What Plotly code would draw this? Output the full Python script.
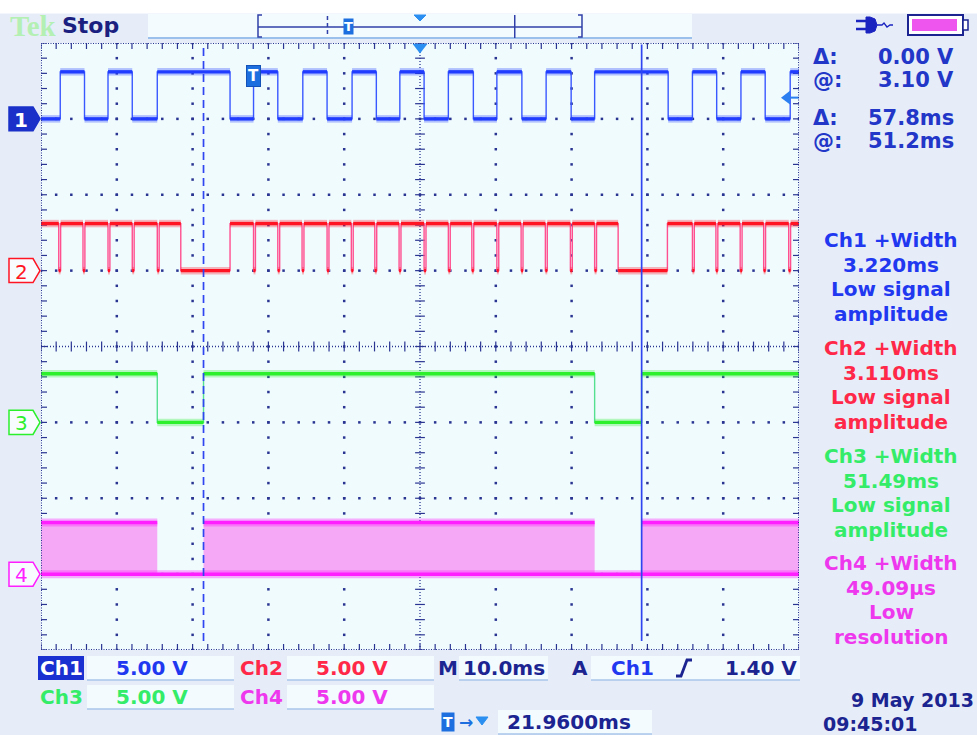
import plotly.graph_objects as go

# ---------------------------------------------------------------- screen
W, H = 977, 735
GX0, GX1, GY0, GY1 = 41, 799, 43, 650          # graticule box (pixels)

# Horizontal: 10.0 ms/div over 10 divisions, times relative to the trigger
T_START, T_END = -28.04, 71.96
DELAY_MS = 21.96
# Vertical: 8 divisions, every channel at 5 V/div
VOLTS_PER_DIV = 5.0
DIV_MIN, DIV_MAX = -4, 4

# ---------------------------------------------------------------- data
channel_names = ["Ch1", "Ch2", "Ch3", "Ch4"]
channel_offsets = [3, 1, -1, -3]                 # ground markers (div)
channel_scale_text = ["5.00 V", "5.00 V", "5.00 V", "5.00 V"]

ch1_high_v = 3.10
ch1_starts_high = False
ch1_edges_ms = [-25.5, -22.3, -19.2, -16.0, -12.7, -3.1, 0.0, 3.2, 6.5,
                9.7, 13.0, 16.2, 19.3, 22.5, 25.7, 29.0, 32.1, 35.4, 38.6,
                41.9, 45.0, 54.7, 57.9, 61.1, 64.3, 67.5, 70.8]

ch2_high_v = 3.10
ch2_glitch_ms = [-25.7, -22.5, -19.2, -16.0, -12.7, 0.0, 3.2, 6.4, 9.7,
                 12.9, 16.0, 19.2, 22.5, 25.7, 28.8, 32.1, 35.3, 38.5,
                 41.8, 45.0, 57.9, 61.0, 64.2, 67.3, 70.6]
ch2_glitch_width_ms = 0.25
ch2_low_ms = [(-9.6, -3.1), (48.1, 54.6)]

ch3_high_v = 3.20
ch3_starts_high = True
ch3_edges_ms = [-12.7, -6.6, 45.0, 51.2]

ch4_high_v = 3.40
ch4_gap_ms = [(-12.7, -6.6), (45.0, 51.2)]

cursor_ms = [-6.6, 51.2]
cursor_level_v = [3.10, 3.10]
trigger_level_v = 1.40

measurements = [
    ["Ch1 +Width", "3.220ms", "Low signal", "amplitude"],
    ["Ch2 +Width", "3.110ms", "Low signal", "amplitude"],
    ["Ch3 +Width", "51.49ms", "Low signal", "amplitude"],
    ["Ch4 +Width", "49.09µs", "Low", "resolution"],
]

# ---------------------------------------------------------------- style
FONT = "DejaVu Sans"
BG = "#e6edf8"
GRAT_BG = "#f0fbfe"
BOX_BG = "#f3fbff"
BOX_EDGE = "#a9c6ea"
GRID = "#2a3592"
NAVY = "#1b2490"
CURSOR = "#2f45f0"
TRACE = ["#1f3cff", "#ff1424", "#2cf02c", "#ff1eff"]
EDGE = ["#3a58ff", "#ff4f8f", "#55e090", "#ff55ff"]
TEXT = ["#1f38f0", "#ff2848", "#34ec68", "#ee38ee"]
CH4_FILL = "#f5a8f5"

PX_MS = (T_END - T_START) / (GX1 - GX0)          # ms per pixel
PX_DIV = (DIV_MAX - DIV_MIN) / (GY1 - GY0)       # div per pixel


def div(ch, volts):
    return channel_offsets[ch] + volts / VOLTS_PER_DIV


def ypix(d):
    return GY0 + (DIV_MAX - d) / PX_DIV


def px(x, y):
    return x / W, 1 - y / H


def step(edges, start_high, high_v, ch):
    xs = [T_START] + list(edges) + [T_END]
    state = start_high
    states = [state]
    for _ in edges:
        state = not state
        states.append(state)
    states.append(state)
    ys = [div(ch, high_v if s else 0.0) for s in states]
    return xs, ys, states


def flats(xs, ys, states=None, only_high=False):
    sx, sy = [], []
    for i in range(len(xs) - 1):
        if only_high and not states[i]:
            continue
        sx += [xs[i], xs[i + 1], None]
        sy += [ys[i], ys[i], None]
    return sx, sy


fig = go.Figure()


def line(x, y, color, width, shape="linear", opacity=1.0, **kw):
    fig.add_trace(go.Scatter(x=x, y=y, mode="lines", opacity=opacity,
                             line=dict(color=color, width=width, shape=shape),
                             hoverinfo="skip", showlegend=False, **kw))


def marks(x, y, symbol, size, color, lw=1.2):
    fig.add_trace(go.Scatter(
        x=x, y=y, mode="markers", hoverinfo="skip", showlegend=False,
        marker=dict(symbol=symbol, size=size, color=color,
                    line=dict(width=lw, color=color))))


# ---------------------------------------------------------------- graticule
dots_x, dots_y = [], []
for i in range(1, 10):
    if i == 5:
        continue
    t = T_START + i * 10
    for k in range(41):
        dots_x.append(t)
        dots_y.append(DIV_MIN + k * 0.2)
for j in range(1, 8):
    if j == 4:
        continue
    for k in range(51):
        dots_x.append(T_START + k * 2)
        dots_y.append(DIV_MIN + j)
fig.add_trace(go.Scatter(x=dots_x, y=dots_y, mode="markers",
                         hoverinfo="skip", showlegend=False,
                         marker=dict(symbol="square", size=2.5, color=GRID)))

t_mid = T_START + 50
minor_t = [T_START + k * 2 for k in range(51)]
minor_d = [DIV_MIN + k * 0.2 for k in range(41)]
# centre cross ticks
marks(minor_t, [0] * len(minor_t), "line-ns", 7, GRID)
marks([t_mid] * len(minor_d), minor_d, "line-ew", 7, GRID)
# border ticks, pointing inward
inset_d = 2.5 * PX_DIV
inset_t = 2.5 * PX_MS
marks(minor_t, [DIV_MAX - inset_d] * len(minor_t), "line-ns", 5, GRID)
marks(minor_t, [DIV_MIN + inset_d] * len(minor_t), "line-ns", 5, GRID)
marks([T_START + inset_t] * len(minor_d), minor_d, "line-ew", 5, GRID)
marks([T_END - inset_t] * len(minor_d), minor_d, "line-ew", 5, GRID)

# ---------------------------------------------------------------- Ch4 (gated burst)
gap_edges = [t for g in ch4_gap_ms for t in g]
x4, y4, s4 = step(gap_edges, True, ch4_high_v, 3)
g4 = div(3, 0.0)
line([T_START, T_END], [g4, g4], "rgba(0,0,0,0)", 0)
fig.add_trace(go.Scatter(x=x4, y=y4, mode="lines", fill="tonexty",
                         fillcolor=CH4_FILL, line=dict(width=0, shape="hv"),
                         hoverinfo="skip", showlegend=False))
fx, fy = flats(x4, y4, s4, only_high=True)
line(fx, fy, TRACE[3], 8, opacity=0.35)
line(fx, fy, TRACE[3], 3.5)
line([T_START, T_END], [g4, g4], TRACE[3], 8, opacity=0.35)
line([T_START, T_END], [g4, g4], TRACE[3], 3.5)

# ---------------------------------------------------------------- Ch1..Ch3
ch2_edges = sorted([t for t in ch2_glitch_ms] +
                   [t + ch2_glitch_width_ms for t in ch2_glitch_ms] +
                   [t for lo in ch2_low_ms for t in lo])
traces = [
    step(ch1_edges_ms, ch1_starts_high, ch1_high_v, 0),
    step(ch2_edges, True, ch2_high_v, 1),
    step(ch3_edges_ms, ch3_starts_high, ch3_high_v, 2),
]
for ch, (xs, ys, st) in enumerate(traces):
    line(xs, ys, EDGE[ch], 1.4, shape="hv")
    fx, fy = flats(xs, ys)
    line(fx, fy, TRACE[ch], 7.5, opacity=0.3)
    line(fx, fy, TRACE[ch], 3.4)

# trigger level arrow on the right edge
trig_d = div(0, trigger_level_v)
line([T_END - 10 * PX_MS, T_END], [trig_d, trig_d], "#2b7ff0", 2)
marks([T_END - 12 * PX_MS], [trig_d], "triangle-left", 12, "#2b7ff0", 0)

# expansion point marker along the top
marks([DELAY_MS], [DIV_MAX - 4 * PX_DIV], "triangle-down", 13, "#2a8ff0", 0)

shapes = []
annots = []


def rect(x0, y0, x1, y1, fill, edge=None, width=0, layer="above", dash=None):
    ln = dict(width=width, color=edge or fill)
    if dash:
        ln["dash"] = dash
    a, b = px(x0, y0)
    c, d = px(x1, y1)
    shapes.append(dict(type="rect", xref="paper", yref="paper", x0=a, y0=b,
                       x1=c, y1=d, fillcolor=fill, line=ln, layer=layer))


def seg(x0, y0, x1, y1, color, width=1.5, dash=None):
    a, b = px(x0, y0)
    c, d = px(x1, y1)
    ln = dict(color=color, width=width)
    if dash:
        ln["dash"] = dash
    shapes.append(dict(type="line", xref="paper", yref="paper", x0=a, y0=b,
                       x1=c, y1=d, line=ln))


def path(points, color, fill=None, width=1.5, close=False):
    parts = []
    for i, (x, y) in enumerate(points):
        a, b = px(x, y)
        parts.append(("M" if i == 0 else "L") + f"{a:.5f},{b:.5f}")
    s = " ".join(parts) + (" Z" if close else "")
    shapes.append(dict(type="path", xref="paper", yref="paper", path=s,
                       fillcolor=fill or "rgba(0,0,0,0)",
                       line=dict(color=color, width=width)))


def text(s, x, y, color, size=21, xanchor="center", family=FONT, bold=True, **kw):
    a, b = px(x, y)
    if bold:
        s = f"<b>{s}</b>"
    annots.append(dict(text=s, x=a, y=b, xref="paper", yref="paper",
                       xanchor=xanchor, yanchor="middle", showarrow=False,
                       font=dict(family=family, size=size, color=color), **kw))


# graticule border and centre lines
shapes.append(dict(type="rect", xref="x", yref="y", x0=T_START, x1=T_END,
                   y0=DIV_MIN, y1=DIV_MAX, layer="above",
                   line=dict(color=GRID, width=2, dash="1px,1.5px")))
shapes.append(dict(type="line", xref="x", yref="y", x0=t_mid, x1=t_mid,
                   y0=DIV_MIN, y1=DIV_MAX, layer="below",
                   line=dict(color=GRID, width=1.3, dash="1px,2px")))
shapes.append(dict(type="line", xref="x", yref="y", x0=T_START, x1=T_END,
                   y0=0, y1=0, layer="below",
                   line=dict(color=GRID, width=1.3, dash="1px,2px")))

# cursors
for i, t in enumerate(cursor_ms):
    shapes.append(dict(type="line", xref="x", yref="y", x0=t, x1=t,
                       y0=DIV_MIN + 0.12, y1=DIV_MAX - 0.02, layer="above",
                       line=dict(color=CURSOR, width=1.7,
                                 dash="8px,5px" if i == 0 else "solid")))

# white strip above the screen
rect(0, 0, W, 13.5, "#ffffff")

# trigger badge inside the graticule
annots.append(dict(text="<b>T</b>", x=0.0, y=1 - (GY0 + 22) / H, xref="x",
                   yref="paper", showarrow=False, bgcolor="#1d6fe0",
                   bordercolor="#1452b8", borderpad=1,
                   font=dict(family=FONT, size=15, color="white")))

# channel ground markers
for ch in range(4):
    yc = ypix(channel_offsets[ch])
    pts = [(9, yc - 12), (33, yc - 12), (40, yc), (33, yc + 12), (9, yc + 12)]
    if ch == 0:
        path(pts, "#1a30c8", fill="#1a30c8", close=True)
        text(str(ch + 1), 21, yc + 1, "white", size=20)
    else:
        path(pts, TRACE[ch], fill="#f8fcff", close=True)
        text(str(ch + 1), 21, yc + 1, TRACE[ch], size=20, bold=False)

# ---------------------------------------------------------------- top bar
text("Tek", 8, 26, "#b4f0b4", size=29, xanchor="left",
     family="Liberation Serif")
text("Stop", 60, 25, "#1a1f80", size=22, xanchor="left")
rect(148, 14, 692, 38, BOX_BG)
seg(148, 38, 692, 38, "#9cc0ec", 2)

REC_X0, REC_X1 = 258, 582


def rec(t):
    return REC_X0 + (t - T_START) / (T_END - T_START) * (REC_X1 - REC_X0)


seg(REC_X0, 27, REC_X1, 27, "#3040a8", 1.5)
path([(REC_X0 + 4, 15), (REC_X0, 15), (REC_X0, 37), (REC_X0 + 4, 37)], "#3040a8", width=1.5)
path([(REC_X1 - 4, 15), (REC_X1, 15), (REC_X1, 37), (REC_X1 - 4, 37)], "#3040a8", width=1.5)
seg(rec(cursor_ms[0]), 16, rec(cursor_ms[0]), 37, "#3040a8", 1.5, dash="4px,3px")
seg(rec(cursor_ms[1]), 15, rec(cursor_ms[1]), 38, "#3040a8", 1.5)
text("T", rec(0), 27, "white", size=13, bgcolor="#1d6fe0", borderpad=0)
path([(rec(DELAY_MS) - 6, 15), (rec(DELAY_MS) + 6, 15), (rec(DELAY_MS), 21)],
     "#2a8ff0", fill="#2a8ff0", close=True, width=1)

# power plug icon
path([(856, 21), (866, 21)], "#1a22c0", width=2.5)
path([(856, 29), (866, 29)], "#1a22c0", width=2.5)
path([(866, 17), (870, 17), (875, 19), (877, 25), (875, 31), (870, 33), (866, 33)],
     "#1a22c0", fill="#1a22c0", close=True, width=1)
path([(877, 25), (882, 25), (884, 23), (887, 27), (890, 25), (893, 25)],
     "#1a22c0", width=1.3)
# battery
rect(908, 15, 963, 35, "#ffffff", edge=NAVY, width=2)
rect(963, 20, 968, 30, "#ffffff", edge=NAVY, width=1.5)
rect(912, 19, 957, 31, "#ee55ee")

# ---------------------------------------------------------------- cursor readout
d_v = cursor_level_v[1] - cursor_level_v[0]
d_t = cursor_ms[1] - cursor_ms[0]
readout = [("Δ:", f"{d_v:.2f} V", 57), ("@:", f"{cursor_level_v[1]:.2f} V", 80),
           ("Δ:", f"{d_t:.1f}ms", 118), ("@:", f"{cursor_ms[1]:.1f}ms", 141)]
for lab, val, y in readout:
    text(lab, 811, y, "#2236c8", size=21, xanchor="left")
    text(val, 956, y, "#2236c8", size=21, xanchor="right")

# measurement blocks
block_top = [240, 348, 456, 563]
for ch in range(4):
    for k, s in enumerate(measurements[ch]):
        text(s, 891, block_top[ch] + k * 24.5, TEXT[ch], size=20)

# ---------------------------------------------------------------- bottom readout
R1, R2, R3 = 668, 697, 722


def field(x0, x1, yc):
    rect(x0, yc - 12, x1, yc + 12, BOX_BG)
    seg(x0, yc + 12, x1, yc + 12, BOX_EDGE, 1.5)


rect(38, R1 - 12, 84, R1 + 12, "#1a30d0")
text("Ch1", 61, R1, "white", size=20)
field(87, 234, R1)
text(channel_scale_text[0], 152, R1, TEXT[0], size=20)
text("Ch2", 261, R1, TEXT[1], size=20)
field(287, 434, R1)
text(channel_scale_text[1], 352, R1, TEXT[1], size=20)
text("Ch3", 61, R2, TEXT[2], size=20)
field(87, 234, R2)
text(channel_scale_text[2], 152, R2, TEXT[2], size=20)
text("Ch4", 261, R2, TEXT[3], size=20)
field(287, 434, R2)
text(channel_scale_text[3], 352, R2, TEXT[3], size=20)

text("M", 448, R1, NAVY, size=20)
field(459, 548, R1)
text("10.0ms", 504, R1, NAVY, size=20)
text("A", 580, R1, NAVY, size=20)
field(591, 800, R1)
text("Ch1", 632, R1, TEXT[0], size=20)
path([(676, R1 + 8), (681, R1 + 8), (687, R1 - 8), (692, R1 - 8)], NAVY, width=2.8)
text(f"{trigger_level_v:.2f} V", 799, R1, NAVY, size=20, xanchor="right")

text("T", 448, R3, "white", size=14, bgcolor="#1d6fe0", borderpad=1)
text("→", 466, R3, "#1d6fe0", size=17)
path([(476, R3 - 5), (488, R3 - 5), (482, R3 + 3)], "#2a8ff0", fill="#2a8ff0", close=True, width=1)
field(498, 652, R3)
text(f"{DELAY_MS:.4f}ms", 569, R3, NAVY, size=20)

text("9 May 2013", 975, 700, NAVY, size=19, xanchor="right", borderpad=0)
text("09:45:01", 822, 724, NAVY, size=19, xanchor="left", borderpad=0)

fig.update_layout(
    width=W, height=H, margin=dict(l=0, r=0, t=0, b=0),
    paper_bgcolor=BG, plot_bgcolor=GRAT_BG, showlegend=False,
    xaxis=dict(domain=[GX0 / W, GX1 / W], range=[T_START, T_END],
               visible=False, fixedrange=True),
    yaxis=dict(domain=[1 - GY1 / H, 1 - GY0 / H], range=[DIV_MIN, DIV_MAX],
               visible=False, fixedrange=True),
    shapes=shapes, annotations=annots,
)

fig.write_html("out.html")
